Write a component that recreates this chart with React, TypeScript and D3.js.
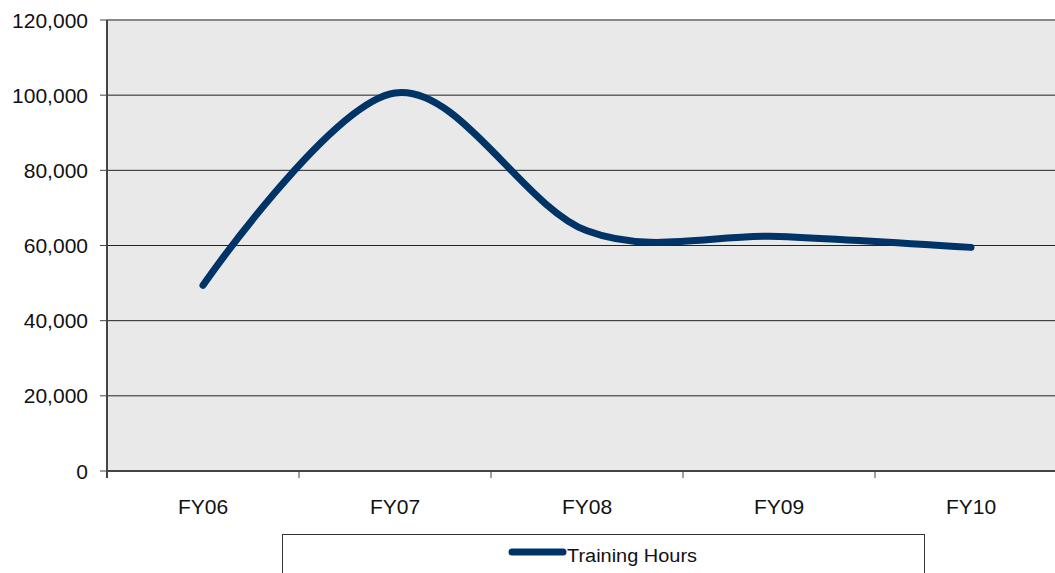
import React from "react";
import * as d3 from "d3";

const categories = ["FY06", "FY07", "FY08", "FY09", "FY10"];
const trainingHours = [49400, 100600, 63900, 62400, 59500];
const yTicks = [0, 20000, 40000, 60000, 80000, 100000, 120000];
const seriesName = "Training Hours";

export default function App() {
  const W = 1055, H = 573;
  const left = 107, top = 20, bottom = 471;
  const plotRight = 1067;
  const x = d3.scaleBand<string>().domain(categories).range([left, plotRight]);
  const y = d3.scaleLinear().domain([0, 120000]).range([bottom, top]);
  const cx = (c: string) => (x(c) as number) + x.bandwidth() / 2;
  const line = d3
    .line<number>()
    .x((_, i) => cx(categories[i]))
    .y((d) => y(d))
    .curve(d3.curveCardinal.tension(0));
  const fmt = d3.format(",");
  const font = "'Liberation Sans', Arial, sans-serif";
  const color = "#003366";
  const bandEdges = categories.map((c) => x(c) as number);

  return (
    <svg width={W} height={H} style={{ position: "absolute", left: 0, top: 0 }}>
      <rect x={0} y={0} width={W} height={H} fill="#fff" />
      <rect x={left} y={top} width={plotRight - left} height={bottom - top} fill="#e9e9e9" />
      {yTicks.slice(1, -1).map((t) => (
        <line key={t} x1={left} x2={plotRight} y1={y(t)} y2={y(t)} stroke="#222" strokeWidth={1} />
      ))}
      <line x1={left} x2={plotRight} y1={top} y2={top} stroke="#888" strokeWidth={2} />
      {yTicks.map((t) => (
        <g key={"yt" + t}>
          <line x1={100} x2={left} y1={y(t)} y2={y(t)} stroke="#444" strokeWidth={1} />
          <text x={88} y={y(t)} dy="0.36em" textAnchor="end" fontFamily={font} fontSize={21} fill="#111">
            {fmt(t)}
          </text>
        </g>
      ))}
      <line x1={left} x2={left} y1={top} y2={bottom + 7} stroke="#444" strokeWidth={2} />
      <line x1={left} x2={plotRight} y1={bottom} y2={bottom} stroke="#444" strokeWidth={2} />
      {bandEdges.slice(1).map((bx, i) => (
        <line key={"xt" + i} x1={bx} x2={bx} y1={bottom} y2={bottom + 7} stroke="#444" strokeWidth={1} />
      ))}
      {categories.map((c) => (
        <text key={c} x={cx(c)} y={514} textAnchor="middle" fontFamily={font} fontSize={21} fill="#111">
          {c}
        </text>
      ))}
      <path d={line(trainingHours) || ""} fill="none" stroke={color} strokeWidth={7} strokeLinecap="round" strokeLinejoin="round" />
      <rect x={282.5} y={534.5} width={642} height={60} fill="#fff" stroke="#333" strokeWidth={1} />
      <line x1={512} x2={563} y1={552} y2={552} stroke={color} strokeWidth={7} strokeLinecap="round" />
      <text x={567} y={562} fontFamily={font} fontSize={18} fill="#111" textLength={130} lengthAdjust="spacingAndGlyphs">
        {seriesName}
      </text>
    </svg>
  );
}
